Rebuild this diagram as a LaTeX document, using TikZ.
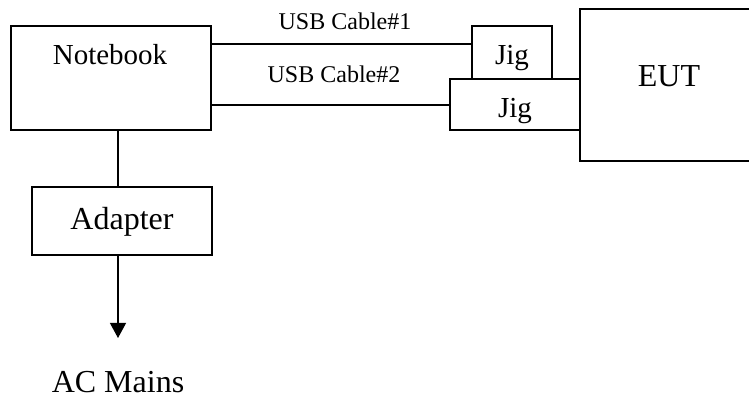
\documentclass[tikz,border=0pt]{standalone}
\usepackage{fontspec}
\setmainfont{Liberation Serif}
\usetikzlibrary{arrows.meta}
\begin{document}
\begin{tikzpicture}[x=0.5pt, y=-0.5pt, line width=0.6pt,
        box/.style={draw, rectangle, inner sep=0pt},
        txt/.style={anchor=base, inner sep=0pt, font=\fontsize{16}{19}\selectfont},
        small/.style={txt, font=\fontsize{12}{14}\selectfont}]
        \useasboundingbox (0,0) rectangle (749,399);
        % boxes
        \node[box, minimum width=100pt, minimum height=52pt] (nb) at (111,78) {};
        \node[box, minimum width=90pt, minimum height=34pt] (ad) at (122,221) {};
        \node[box, minimum width=40pt, minimum height=26.5pt] (jig1) at (512,52.5) {};
        \node[box, minimum width=65pt, minimum height=25.5pt] (jig2) at (515,104.5) {};
        \node[box, minimum width=96pt, minimum height=76pt] (eut) at (676,85) {};
        % texts
        \node[txt, font=\fontsize{14.5}{17}\selectfont] (nbtxt) at (110,65) {Notebook};
        \node[txt] (adtxt) at (122,230) {Adapter};
        \node[txt] (euttxt) at (669,87) {EUT};
        \node[txt, font=\fontsize{14.5}{17}\selectfont] (jig1txt) at (512,65) {Jig};
        \node[txt, font=\fontsize{14.5}{17}\selectfont] (jig2txt) at (515,118) {Jig};
        \node[txt] (ac) at (118,393) {AC Mains};
        \node[small] (usb1) at (345,30) {USB Cable\#1};
        \node[small] (usb2) at (334,83) {USB Cable\#2};
        % cables
        \coordinate (c1) at (300,44);
        \coordinate (c2) at (300,105);
        \coordinate (pw) at (118,0);
        \coordinate (tip) at (118,338);
        \draw (nb.east |- c1) -- (jig1.west |- c1);
        \draw (nb.east |- c2) -- (jig2.west |- c2);
        \draw (nb.south -| pw) -- (ad.north -| pw);
        \draw[-{Triangle[length=7.5pt, width=8pt]}] (ad.south -| pw) -- (tip);
\end{tikzpicture}
\end{document}
